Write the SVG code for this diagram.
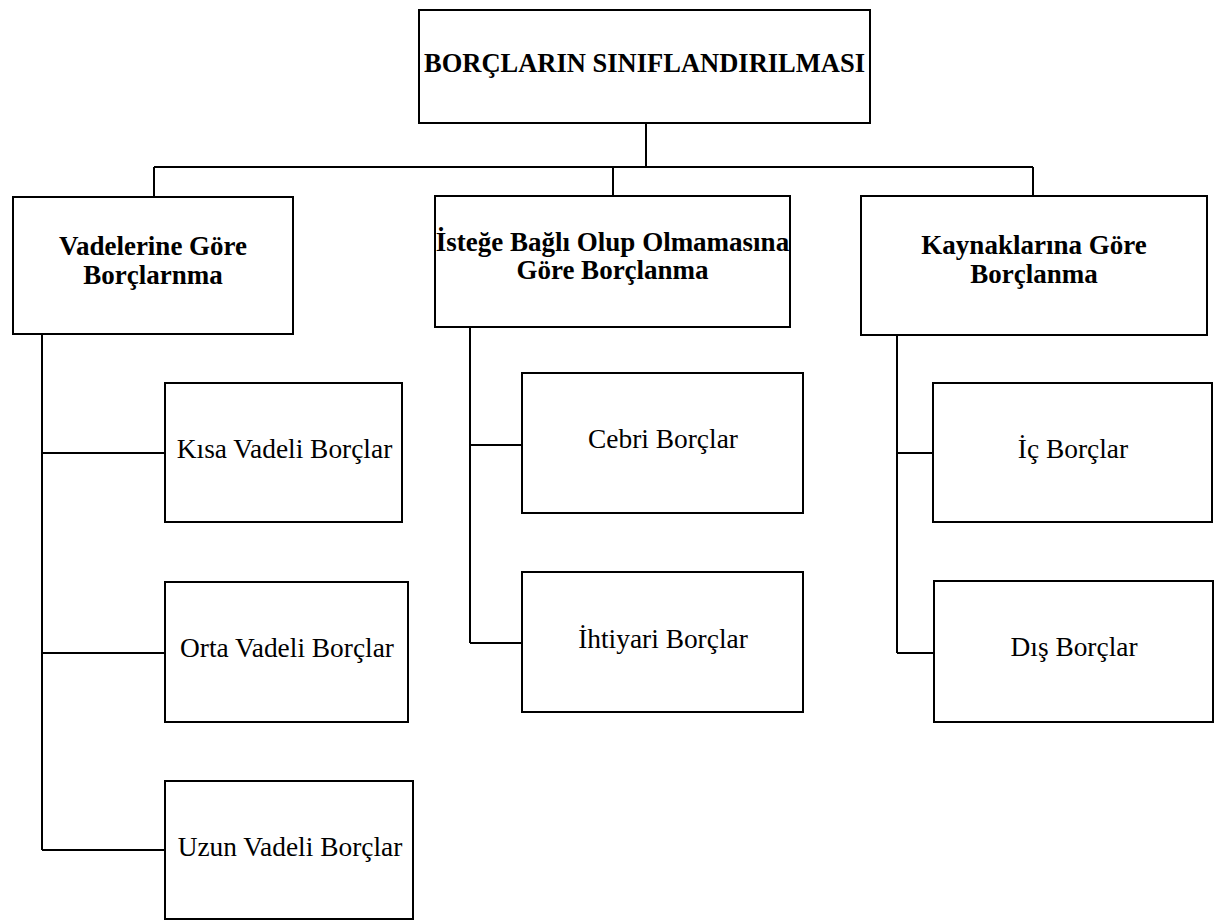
<svg xmlns="http://www.w3.org/2000/svg" width="1215" height="921" viewBox="0 0 1215 921">
<style>
.box{fill:#fff;stroke:#000;stroke-width:2}
.ln{fill:none;stroke:#000;stroke-width:2}
.b{font-family:"Liberation Serif","Times New Roman",serif;font-weight:bold;font-size:27px;text-anchor:middle;fill:#000}
.t{font-size:26.5px}
.r{font-family:"Liberation Serif","Times New Roman",serif;font-size:27.4px;text-anchor:middle;fill:#000}
</style>
<rect width="1215" height="921" fill="#fff"/>
<g id="connectors" class="ln">
<path d="M646,123V167M154,167H1033M154,167V197M613,167V196M1033,167V196"/>
<path d="M42,334V850M42,453H165M42,653H165M42,850H165"/>
<path d="M470,327V643M470,445H522M470,643H522"/>
<path d="M897,335V653M897,453H933M897,653H934"/>
</g>
<g id="root"><rect class="box" x="419" y="10" width="451" height="113"/><text class="b t" x="644.5" y="72">BORÇLARIN SINIFLANDIRILMASI</text></g>
<g id="vade"><rect class="box" x="13" y="197" width="280" height="137"/><text class="b" x="153" y="255">Vadelerine Göre</text><text class="b" x="153" y="284">Borçlarnma</text></g>
<g id="istege"><rect class="box" x="435" y="196" width="355" height="131"/><text class="b" x="612.5" y="251">İsteğe Bağlı Olup Olmamasına</text><text class="b" x="612.5" y="279">Göre Borçlanma</text></g>
<g id="kaynak"><rect class="box" x="861" y="196" width="346" height="139"/><text class="b" x="1034" y="254">Kaynaklarına Göre</text><text class="b" x="1034" y="283">Borçlanma</text></g>
<g id="kisa"><rect class="box" x="165" y="383" width="237" height="139"/><text class="r" x="284.5" y="458">Kısa Vadeli Borçlar</text></g>
<g id="orta"><rect class="box" x="165" y="582" width="243" height="140"/><text class="r" x="287" y="657">Orta Vadeli Borçlar</text></g>
<g id="uzun"><rect class="box" x="165" y="781" width="248" height="138"/><text class="r" x="290" y="856">Uzun Vadeli Borçlar</text></g>
<g id="cebri"><rect class="box" x="522" y="373" width="281" height="140"/><text class="r" x="663" y="448">Cebri Borçlar</text></g>
<g id="ihtiyari"><rect class="box" x="522" y="572" width="281" height="140"/><text class="r" x="663" y="648">İhtiyari Borçlar</text></g>
<g id="ic"><rect class="box" x="933" y="383" width="279" height="139"/><text class="r" x="1073" y="458">İç Borçlar</text></g>
<g id="dis"><rect class="box" x="934" y="581" width="279" height="141"/><text class="r" x="1074" y="656">Dış Borçlar</text></g>
</svg>
